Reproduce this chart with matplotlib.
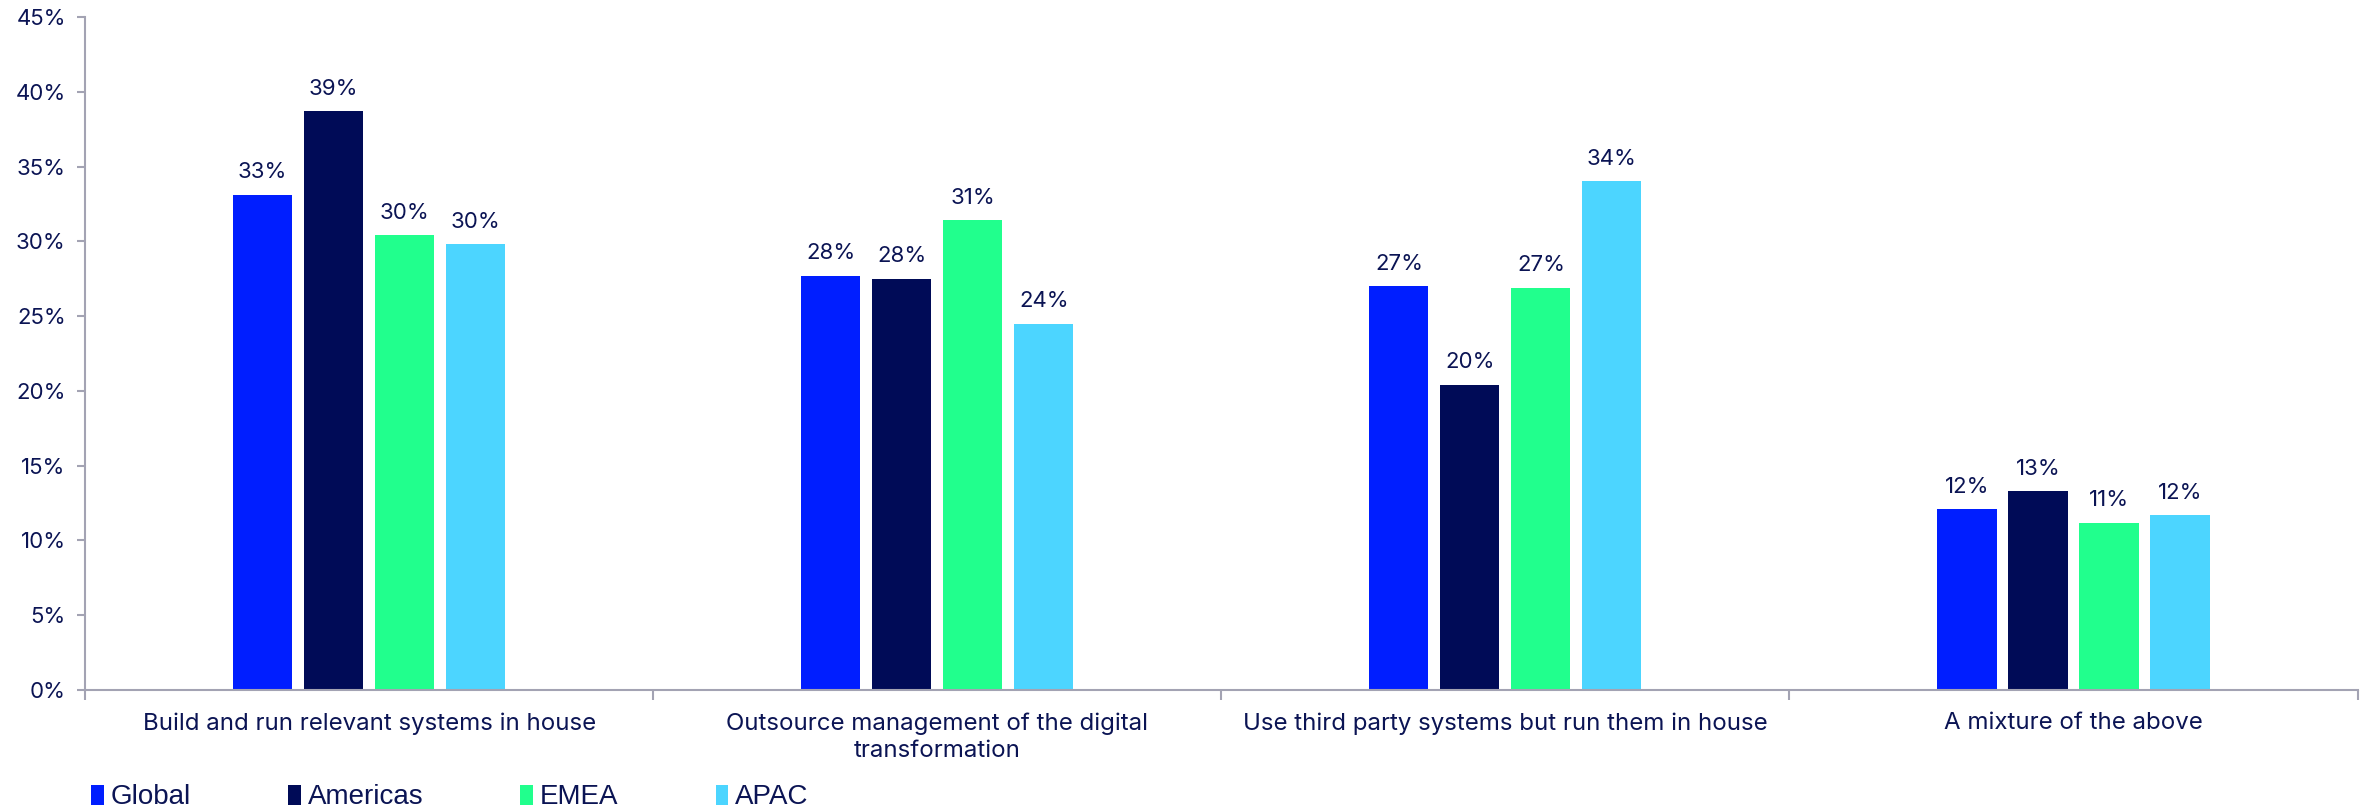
import numpy as np
import matplotlib
matplotlib.use("Agg")
import matplotlib.pyplot as plt

categories = [
    "Build and run relevant systems in house",
    "Outsource management of the digital\ntransformation",
    "Use third party systems but run them in house",
    "A mixture of the above",
]
series = ["Global", "Americas", "EMEA", "APAC"]
global_vals = [33.1, 27.7, 27.0, 12.1]
americas_vals = [38.7, 27.5, 20.4, 13.3]
emea_vals = [30.4, 31.4, 26.9, 11.2]
apac_vals = [29.8, 24.5, 34.0, 11.7]
yticks = [0, 5, 10, 15, 20, 25, 30, 35, 40, 45]

colors = ["#001EFF", "#000B57", "#21FF8D", "#4CD5FF"]
TEXT = "#0B1454"
AXIS = "#A3A3B3"

plt.rcParams["font.family"] = ["Inter", "DejaVu Sans"]

fig = plt.figure(figsize=(23.67, 8.08), dpi=100)
ax = fig.add_axes([0.036, 0.146, 0.96, 0.833])

x = np.arange(len(categories))
width = 0.104
step = 0.125
values = [global_vals, americas_vals, emea_vals, apac_vals]
for i, (name, vals, col) in enumerate(zip(series, values, colors)):
    pos = x + (i - 1.5) * step
    bars = ax.bar(pos, vals, width, color=col, label=name)
    for b, v in zip(bars, vals):
        ax.annotate(f"{v:.0f}%", (b.get_x() + b.get_width() / 2, v),
                    xytext=(0, 9), textcoords="offset points",
                    ha="center", va="bottom", fontsize=16, color=TEXT)

ax.set_xlim(-0.5, 3.5)
ax.set_ylim(0, 45)
ax.set_yticks(yticks)
ax.set_yticklabels([f"{t}%" for t in yticks], fontsize=16, color=TEXT)
ax.set_xticks(np.arange(-0.5, 4, 1))
ax.set_xticklabels([])
ax.set_xticks(x, minor=True)
ax.set_xticklabels(categories, minor=True, fontsize=17.3, color=TEXT,
                   linespacing=1.3)
ax.tick_params(axis="x", which="minor", length=0, pad=16)
ax.tick_params(axis="x", which="major", length=7, color=AXIS, width=1.5)
ax.tick_params(axis="y", length=6, color=AXIS, width=1.5, pad=8)

for s in ["top", "right"]:
    ax.spines[s].set_visible(False)
for s in ["left", "bottom"]:
    ax.spines[s].set_color(AXIS)
    ax.spines[s].set_linewidth(1.5)

fig.legend(loc="center left", bbox_to_anchor=(0.028, 0.013), ncol=4,
           frameon=False, handlelength=0.45, handleheight=0.75,
           handletextpad=0.25, columnspacing=3.5,
           prop={"family": ["Liberation Sans", "DejaVu Sans"], "size": 20})
for t in fig.legends[0].get_texts():
    t.set_color(TEXT)

fig.savefig("out.png", dpi=100)
